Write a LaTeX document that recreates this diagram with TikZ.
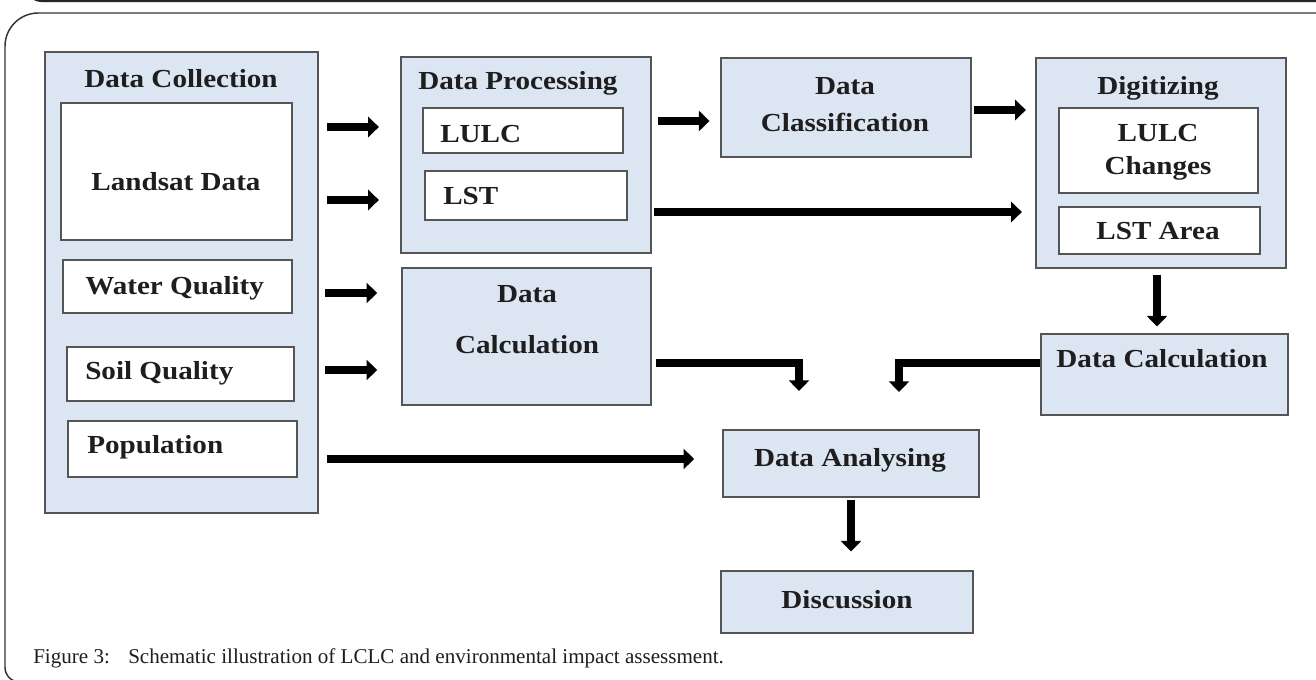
\documentclass[tikz,border=0pt]{standalone}
\usepackage{fontspec}
\setmainfont{Liberation Serif}
\newfontfamily\bxfont{Liberation Serif}[FakeStretch=1.12]
\usetikzlibrary{arrows.meta,fit}
\definecolor{boxfill}{RGB}{220,230,242}
\definecolor{boxline}{RGB}{85,85,85}
\definecolor{txt}{RGB}{30,30,30}
\begin{document}
\begin{tikzpicture}[x=0.75pt,y=-0.75pt,
  box/.style={draw=boxline, line width=1.2pt, fill=boxfill, inner sep=0pt},
  inbox/.style={draw=boxline, line width=1.2pt, fill=white, inner sep=0pt},
  lbl/.style={font=\bxfont\bfseries\fontsize{19.5}{22}\selectfont, text=txt, anchor=base, inner sep=0pt},
  lbll/.style={lbl, anchor=base west},
  arr/.style={line width=6pt, -{Triangle[width=15pt,length=8pt]}},
  capt/.style={font=\fontsize{15.8}{19}\selectfont, text=txt, anchor=base west, inner sep=0pt}
  ]
\useasboundingbox (0,0) rectangle (1316,680);
\clip (0,0) rectangle (1316,680);
\fill[white] (0,0) rectangle (1316,680);

% frames
\draw[line width=1.6pt, black!85] (1330,1) [rounded corners=12pt] -- (26,1) -- (26,-20);
\draw[line width=1.1pt, black!80] (1330,13) [rounded corners=25pt] -- (5,13) [rounded corners=11pt] -- (5,682) -- (1330,682);

% boxes
\node[box, fit={(45,52) (318,513)}] (coll) {};
\node[inbox, fit={(61,103) (292,240)}] (landsat) {};
\node[inbox, fit={(63,260) (292,313)}] (water) {};
\node[inbox, fit={(67,347) (294,401)}] (soil) {};
\node[inbox, fit={(68,421) (297,477)}] (pop) {};
\node[box, fit={(401,57) (651,253)}] (proc) {};
\node[inbox, fit={(423,108) (623,153)}] (lulc) {};
\node[inbox, fit={(425,171) (627,220)}] (lst) {};
\node[box, fit={(402,268) (651,405)}] (dcl) {};
\node[box, fit={(721,58) (971,157)}] (cls) {};
\node[box, fit={(1036,58) (1286,268)}] (digit) {};
\node[inbox, fit={(1059,108) (1258,193)}] (lulcc) {};
\node[inbox, fit={(1059,207) (1260,254)}] (lsta) {};
\node[box, fit={(1041,334) (1288,415)}] (dcr) {};
\node[box, fit={(723,430) (979,497)}] (da) {};
\node[box, fit={(721,571) (973,633)}] (disc) {};

% labels
\node[lbl] (tcoll) at (181,88) {Data Collection};
\node[lbl] (tland) at (176,191) {Landsat Data};
\node[lbll] (twat) at (85,295) {Water Quality};
\node[lbll] (tsoil) at (85,380) {Soil Quality};
\node[lbll] (tpop) at (87,454) {Population};
\node[lbll] (tproc) at (418,90) {Data Processing};
\node[lbll] (tlulc) at (440,143) {LULC};
\node[lbll] (tlst) at (443,205) {LST};
\node[lbl] (tdcl1) at (527,303) {Data};
\node[lbl] (tdcl2) at (527,354) {Calculation};
\node[lbl] (tcls1) at (845,95) {Data};
\node[lbl] (tcls2) at (845,132) {Classification};
\node[lbl] (tdig) at (1158,95) {Digitizing};
\node[lbl] (tlc1) at (1158,142) {LULC};
\node[lbl] (tlc2) at (1158,175) {Changes};
\node[lbl] (tlsta) at (1158,240) {LST Area};
\node[lbl] (tdcr) at (1162,368) {Data Calculation};
\node[lbl] (tda) at (850,466) {Data Analysing};
\node[lbl] (tdisc) at (847,608) {Discussion};

% caption
\node[capt] (figno) at (33,663) {Figure 3:};
\node[capt] (captxt) at (128,663) {Schematic illustration of LCLC and environmental impact assessment.};

% helper rows
\coordinate (r110) at (0,110);
\coordinate (r121) at (0,121);
\coordinate (r127) at (0,127);
\coordinate (r200) at (0,200);
\coordinate (r212) at (0,212);
\coordinate (r293) at (0,293);
\coordinate (r363) at (0,363);
\coordinate (r370) at (0,370);
\coordinate (r459) at (0,459);
\coordinate (j1) at (799,391);
\coordinate (j2) at (899,392);

% connectors
\draw[arr, shorten <=6pt, shorten >=16pt] (coll.east |- r127) -- (proc.west |- r127);
\draw[arr, shorten <=6pt, shorten >=16pt] (coll.east |- r200) -- (proc.west |- r200);
\draw[arr, shorten <=5pt, shorten >=18pt] (coll.east |- r293) -- (dcl.west |- r293);
\draw[arr, shorten <=5pt, shorten >=18pt] (coll.east |- r370) -- (dcl.west |- r370);
\draw[arr, shorten <=6pt, shorten >=21pt] (coll.east |- r459) -- (da.west |- r459);
\draw[arr, shorten <=4.5pt, shorten >=8pt] (proc.east |- r121) -- (cls.west |- r121);
\draw[arr, shorten <=1.5pt, shorten >=7pt] (cls.east |- r110) -- (digit.west |- r110);
\draw[arr, shorten <=1.5pt, shorten >=10pt] (proc.east |- r212) -- (digit.west |- r212);
\draw[arr, shorten <=3pt] (dcl.east |- r363) -| (j1);
\draw[arr] (dcr.west |- r363) -| (j2);
\draw[arr, shorten <=5pt, shorten >=5pt] ([xshift=-3pt]digit.south) -- ([xshift=-3pt]digit.south |- dcr.north);
\draw[arr, shorten <=2pt, shorten >=14pt] (da.south) -- (da.south |- disc.north);
\end{tikzpicture}
\end{document}
